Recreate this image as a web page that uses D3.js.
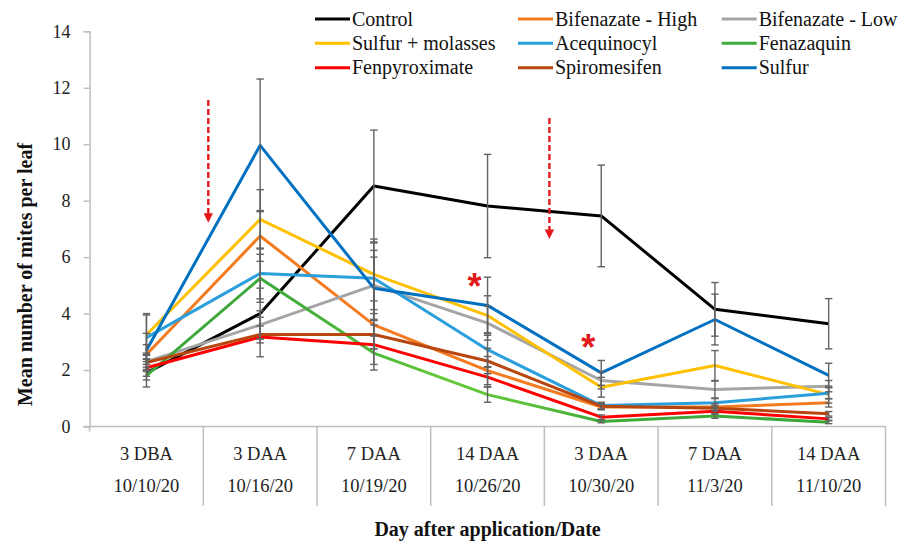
<!DOCTYPE html>
<html>
<head>
<meta charset="utf-8">
<script src="https://cdn.jsdelivr.net/npm/d3@7"></script>
<style>
  html, body { margin: 0; padding: 0; background: #fff; }
  svg { display: block; font-family: "Liberation Serif", "Times New Roman", serif; }
</style>
</head>
<body>
<svg id="chart" width="900" height="544"></svg>
<script>
// ---------- DATA ----------
const tickLabels = ["3 DBA", "3 DAA", "7 DAA", "14 DAA", "3 DAA", "7 DAA", "14 DAA"];
const dateLabels = ["10/10/20", "10/16/20", "10/19/20", "10/26/20", "10/30/20", "11/3/20", "11/10/20"];
const yTicks = [0, 2, 4, 6, 8, 10, 12, 14];

const seriesNames = ["Control", "Bifenazate - High", "Bifenazate - Low",
  "Sulfur + molasses", "Acequinocyl", "Fenazaquin",
  "Fenpyroximate", "Spiromesifen", "Sulfur"];
const seriesColors = ["#000000", "#F47B20", "#A5A5A5",
  "#FFC000", "#2A9FDC", "#3DAA3A",
  "#FF0000", "#B8460E", "#0071C1"];

const control        = [1.90, 4.00, 8.52, 7.81, 7.46, 4.15, 3.64];
const bifenazateHigh = [2.55, 6.75, 3.60, 1.98, 0.69, 0.69, 0.84];
const bifenazateLow  = [2.30, 3.60, 5.00, 3.66, 1.63, 1.31, 1.43];
const sulfurMolasses = [3.25, 7.34, 5.39, 3.93, 1.39, 2.16, 1.13];
const acequinocyl    = [3.15, 5.42, 5.25, 2.72, 0.74, 0.84, 1.18];
const fenazaquin     = [1.80, 5.25, 2.60, 1.13, 0.18, 0.37, 0.15];
const fenpyroximate  = [2.08, 3.17, 2.90, 1.75, 0.33, 0.54, 0.27];
const spiromesifen   = [2.27, 3.26, 3.26, 2.32, 0.72, 0.65, 0.45];
const sulfur         = [2.70, 9.96, 4.90, 4.29, 1.90, 3.79, 1.81];

const controlErr        = [0.50, 0.90, 1.98, 1.83, 1.80, 0.95, 0.89];
const bifenazateHighErr = [0.35, 0.90, 0.85, 0.50, 0.10, 0.12, 0.15];
const bifenazateLowErr  = [0.30, 0.50, 1.24, 0.60, 0.30, 0.30, 0.20];
const sulfurMolassesErr = [0.70, 1.05, 1.25, 0.70, 0.35, 0.53, 0.30];
const acequinocylErr    = [0.85, 0.90, 1.25, 0.60, 0.12, 0.15, 0.20];
const fenazaquinErr     = [0.15, 0.85, 0.60, 0.27, 0.05, 0.08, 0.05];
const fenpyroximateErr  = [0.30, 0.70, 0.70, 0.35, 0.08, 0.10, 0.05];
const spiromesifenErr   = [0.25, 0.30, 0.50, 0.45, 0.10, 0.10, 0.08];
const sulfurErr         = [0.60, 2.35, 1.10, 1.00, 0.44, 0.90, 0.43];

// annotations
const arrowMarks = [{ after: 0, top: 11.57, tip: 7.22 }, { after: 3, top: 10.93, tip: 6.64 }];
const starMarks = [{ at: 3, value: 5.26 }, { at: 4, value: 3.10 }];

const seriesValues = [control, bifenazateHigh, bifenazateLow, sulfurMolasses, acequinocyl,
  fenazaquin, fenpyroximate, spiromesifen, sulfur];
const seriesErrors = [controlErr, bifenazateHighErr, bifenazateLowErr, sulfurMolassesErr, acequinocylErr,
  fenazaquinErr, fenpyroximateErr, spiromesifenErr, sulfurErr];

// ---------- CHART ----------
const svg = d3.select("#chart");
const mLeft = 89.6, mRight = 885.5, mTop = 31.3, mBottom = 426.5;
const idx = d3.range(tickLabels.length);
const x = d3.scaleBand().domain(idx).range([mLeft, mRight]).padding(0);
const xc = i => x(i) + x.bandwidth() / 2;
const y = d3.scaleLinear().domain([0, 14]).range([mBottom, mTop]);
const axisColor = "#BFBFBF";

// gradient for the Fenazaquin line (lighter in the middle, as in the reference)
const defs = svg.append("defs");
const grad = defs.append("linearGradient").attr("id", "greenGrad")
  .attr("gradientUnits", "userSpaceOnUse")
  .attr("x1", xc(0)).attr("x2", xc(6)).attr("y1", 0).attr("y2", 0);
[[0, "#3DAA3A"], [1 / 6, "#3DA83A"], [2 / 6, "#4DB93A"], [2.6 / 6, "#66C936"], [3.3 / 6, "#5CC23A"], [4 / 6, "#3FAA3A"], [1, "#3DA83A"]]
  .forEach(([o, c]) => grad.append("stop").attr("offset", o).attr("stop-color", c));

// Y axis
const yAxis = svg.append("g").attr("transform", `translate(${mLeft},0)`)
  .call(d3.axisLeft(y).tickValues(yTicks).tickSize(6).tickPadding(13).tickFormat(d3.format("d")));
yAxis.select(".domain").attr("stroke", axisColor).attr("stroke-width", 1.5);
yAxis.selectAll(".tick line").attr("stroke", axisColor).attr("stroke-width", 1.5);
yAxis.selectAll(".tick text").attr("font-size", 18).attr("fill", "#222")
  .attr("font-family", "\"Liberation Serif\", \"Times New Roman\", serif");

// X axis baseline + dividers
svg.append("line").attr("x1", mLeft - 6).attr("x2", mRight).attr("y1", mBottom).attr("y2", mBottom)
  .attr("stroke", axisColor).attr("stroke-width", 1.5);
svg.append("line").attr("x1", mLeft).attr("x2", mLeft).attr("y1", mBottom).attr("y2", mBottom + 5)
  .attr("stroke", axisColor).attr("stroke-width", 1.5);
svg.append("g").selectAll("line").data(idx).join("line")
  .attr("x1", i => x(i) + x.bandwidth()).attr("x2", i => x(i) + x.bandwidth())
  .attr("y1", mBottom).attr("y2", 506)
  .attr("stroke", axisColor).attr("stroke-width", 1.5);

const xl = svg.append("g").attr("font-size", 18.5).attr("fill", "#222").attr("text-anchor", "middle");
xl.selectAll("text.t1").data(idx).join("text").attr("class", "t1")
  .attr("x", i => xc(i)).attr("y", 460).text(i => tickLabels[i]);
xl.selectAll("text.t2").data(idx).join("text").attr("class", "t2")
  .attr("x", i => xc(i)).attr("y", 491.5).text(i => dateLabels[i]);

// axis titles
svg.append("text").attr("x", (mLeft + mRight) / 2).attr("y", 536).attr("text-anchor", "middle")
  .attr("font-size", 20).attr("font-weight", "bold").attr("fill", "#111")
  .text("Day after application/Date");
svg.append("text").attr("transform", "translate(32,274.5) rotate(-90)").attr("text-anchor", "middle")
  .attr("font-size", 20).attr("font-weight", "bold").attr("fill", "#111")
  .text("Mean number of mites per leaf");

// lines
const line = d3.line().x((d, i) => xc(i)).y(d => y(d));
const plot = svg.append("g");
seriesValues.forEach((vals, s) => {
  plot.append("path").datum(vals).attr("d", line).attr("fill", "none")
    .attr("stroke", seriesNames[s] === "Fenazaquin" ? "url(#greenGrad)" : seriesColors[s])
    .attr("stroke-width", 3).attr("stroke-linejoin", "round");
});
// error bars
const eb = svg.append("g").attr("stroke", "#626262").attr("stroke-width", 1.4);
seriesValues.forEach((vals, s) => {
  vals.forEach((v, i) => {
    const e = seriesErrors[s][i];
    const cx = xc(i);
    const hi = y(v + e), lo = y(Math.max(0, v - e));
    eb.append("line").attr("x1", cx).attr("x2", cx).attr("y1", hi).attr("y2", lo);
    eb.append("line").attr("x1", cx - 3.7).attr("x2", cx + 3.7).attr("y1", hi).attr("y2", hi);
    eb.append("line").attr("x1", cx - 3.7).attr("x2", cx + 3.7).attr("y1", lo).attr("y2", lo);
  });
});

// arrows
const arrowColor = "#E3191B";
arrowMarks.forEach(a => {
  const ax = x(a.after) + x.bandwidth() + 5;
  svg.append("line").attr("x1", ax).attr("x2", ax).attr("y1", y(a.top)).attr("y2", y(a.tip) - 8)
    .attr("stroke", arrowColor).attr("stroke-width", 2.4).attr("stroke-dasharray", "6,3");
  const ty = y(a.tip);
  svg.append("path").attr("d", `M${ax - 4.7},${ty - 9.5} L${ax + 4.7},${ty - 9.5} L${ax},${ty} Z`)
    .attr("fill", arrowColor);
});
// asterisks
starMarks.forEach(m => {
  svg.append("text").attr("x", xc(m.at) - 13).attr("y", y(m.value) + 21)
    .attr("text-anchor", "middle").attr("font-family", "\"Liberation Sans\", Arial, sans-serif")
    .attr("font-weight", "bold").attr("font-size", 36).attr("fill", arrowColor).text("*");
});

// legend
const legCols = [315, 518, 721.7];
const legRows = [19, 43.3, 67.7];
const leg = svg.append("g");
seriesNames.forEach((name, s) => {
  const cx = legCols[s % 3], cy = legRows[Math.floor(s / 3)];
  leg.append("line").attr("x1", cx).attr("x2", cx + 35).attr("y1", cy).attr("y2", cy)
    .attr("stroke", seriesColors[s]).attr("stroke-width", 3);
  leg.append("text").attr("x", cx + 37).attr("y", cy + 6.5).attr("font-size", 20).attr("fill", "#111")
    .text(name);
});
</script>
</body>
</html>
